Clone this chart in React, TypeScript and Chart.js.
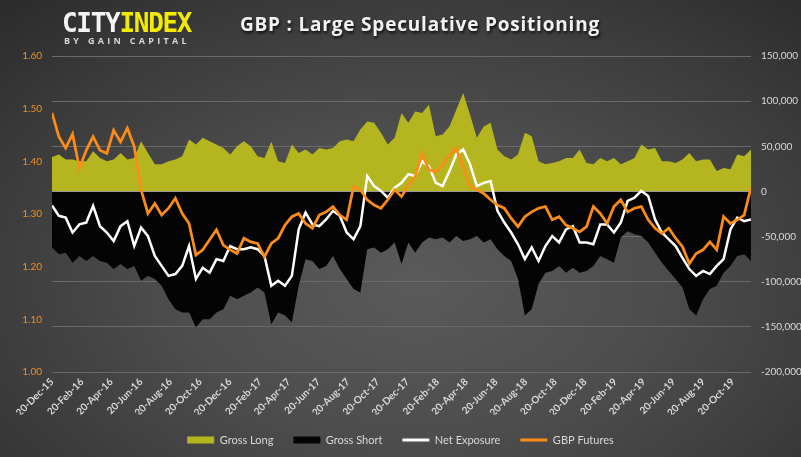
import React, { useEffect, useRef } from 'react';
import { Chart, registerables } from 'chart.js';

Chart.register(...registerables);

// Fortnightly observations from 20-Dec-15 onwards
const STEP_DAYS = 14.09;
const START_UTC = Date.UTC(2015, 11, 20);

const X_TICK_LABELS = [
  '20-Dec-15', '20-Feb-16', '20-Apr-16', '20-Jun-16', '20-Aug-16', '20-Oct-16',
  '20-Dec-16', '20-Feb-17', '20-Apr-17', '20-Jun-17', '20-Aug-17', '20-Oct-17',
  '20-Dec-17', '20-Feb-18', '20-Apr-18', '20-Jun-18', '20-Aug-18', '20-Oct-18',
  '20-Dec-18', '20-Feb-19', '20-Apr-19', '20-Jun-19', '20-Aug-19', '20-Oct-19',
];

const GROSS_LONG = [
  38000, 41000, 35500, 35500, 33500, 33500, 44500, 37000, 33500, 35500, 42500, 35500,
  37000, 55500, 42500, 30000, 30000, 33500, 35500, 39000, 57500, 52000, 59500, 55500,
  52000, 48000, 41000, 50000, 55500, 50000, 39000, 37000, 55000, 33500, 31500,
  52000, 42500, 46500, 41000, 48000, 46500, 48000, 55500, 57500, 55500, 68500, 77500,
  76000, 65000, 52000, 59500, 87000, 76000, 88500, 87000, 96000, 61000, 63000, 72000,
  90500, 109000, 85000, 59500, 72000, 76000, 46500, 39000, 35500, 41000,
  65000, 61000, 33500, 30000, 31500, 33500, 37000, 37000, 46500, 31500, 30000, 37000,
  33500, 37000, 30000, 33500, 37000, 52000, 46500, 48000, 33500, 33500, 31500, 35500,
  42500, 33500, 35500, 35500, 22500, 26000, 24500, 41000, 39000, 46500,
];

const GROSS_SHORT = [
  -62000, -69500, -68000, -79000, -71500, -77000, -71500, -77000, -79000, -86000, -80500, -86000,
  -82500, -99000, -93500, -97000, -104500, -119500, -130500, -134000, -134000, -150500, -141500, -141500,
  -134000, -130500, -115500, -119500, -115500, -112000, -106500, -112000, -147000, -134000, -137500,
  -145000, -104500, -75000, -77000, -86000, -82500, -71500, -86000, -97000, -108000, -112000, -64000,
  -62000, -68000, -64000, -56500, -80500, -56500, -68000, -56500, -51000, -53000, -51000, -56500,
  -49500, -55000, -53000, -49500, -56500, -53000, -64000, -71500, -77000, -97000,
  -137500, -130500, -102500, -90000, -88000, -82500, -90000, -84500, -90000, -88000, -82500, -71500,
  -75000, -79000, -51000, -44000, -47500, -49500, -56500, -68000, -79000, -88000, -97000, -106500,
  -130500, -137500, -119500, -108000, -104500, -90000, -82500, -71500, -69500, -77000,
];

const NET_EXPOSURE = [
  -15500, -27000, -29000, -45500, -36500, -34500, -16000, -38500, -45500, -55000, -38500, -33000,
  -60500, -40000, -49500, -71500, -82500, -93500, -91500, -82500, -60500, -97000, -84500, -90000,
  -75000, -77000, -60500, -64000, -64000, -62000, -64000, -71500, -104500, -99000, -104500,
  -93500, -42000, -23500, -36500, -38500, -31000, -21500, -27000, -45500, -53000, -38500, 17000,
  6000, 500, -7000, 4000, 9500, 19000, 17000, 33500, 28000, 9500, 6000, 22500,
  41000, 46500, 30000, 6000, 9500, 11500, -21500, -34500, -45500, -58500,
  -75000, -62000, -77000, -60500, -49500, -56500, -42000, -38500, -56500, -56500, -58500, -36500,
  -36500, -45500, -34500, -10500, -7000, 500, -5000, -31000, -45500, -53000, -60500, -73500,
  -86000, -93500, -88000, -91500, -82500, -75000, -42000, -29000, -33000, -31000,
];

const GBP_FUTURES = [
  1.492, 1.447, 1.425, 1.452, 1.387, 1.421, 1.447, 1.421, 1.415, 1.459, 1.437, 1.463,
  1.428, 1.346, 1.301, 1.320, 1.298, 1.311, 1.330, 1.301, 1.282, 1.222, 1.232, 1.251,
  1.270, 1.241, 1.232, 1.225, 1.254, 1.247, 1.244, 1.219, 1.244, 1.254, 1.279,
  1.295, 1.301, 1.282, 1.273, 1.298, 1.304, 1.314, 1.298, 1.289, 1.352, 1.346, 1.327,
  1.317, 1.311, 1.327, 1.346, 1.333, 1.355, 1.371, 1.415, 1.384, 1.380, 1.393, 1.412,
  1.425, 1.390, 1.352, 1.346, 1.339, 1.327, 1.317, 1.311, 1.292, 1.276,
  1.295, 1.304, 1.311, 1.314, 1.289, 1.295, 1.279, 1.273, 1.266, 1.276, 1.314, 1.301,
  1.282, 1.314, 1.327, 1.304, 1.311, 1.314, 1.289, 1.273, 1.263, 1.273, 1.254, 1.238,
  1.206, 1.225, 1.232, 1.247, 1.232, 1.295, 1.282, 1.289, 1.298, 1.350,
];

const OLIVE = '#b4b51f';
const SHORT_BLACK = '#040404';
const ORANGE = '#fb8c17';
const TICK_ORANGE = '#f0901f';
const TEXT_GREY = '#d9d9d9';
const FONT = 'Lato, "Open Sans", sans-serif';

const MONTHS = ['Jan', 'Feb', 'Mar', 'Apr', 'May', 'Jun', 'Jul', 'Aug', 'Sep', 'Oct', 'Nov', 'Dec'];
const labelDay = (label: string) => {
  const [d, m, y] = label.split('-');
  return (Date.UTC(2000 + Number(y), MONTHS.indexOf(m), Number(d)) - START_UTC) / 86400000;
};

const toPoints = (values: number[]) => values.map((v, i) => ({ x: i * STEP_DAYS, y: v }));

const zeroLinePlugin = {
  id: 'zeroLine',
  afterDatasetDraw(chart: any, args: any) {
    if (args.index !== 1) return;
    const { ctx, chartArea } = chart;
    const y = Math.round(chart.scales.yR.getPixelForValue(0)) + 0.5;
    ctx.save();
    ctx.strokeStyle = '#9a9a9a';
    ctx.lineWidth = 1;
    ctx.beginPath();
    ctx.moveTo(chartArea.left, y);
    ctx.lineTo(chartArea.right, y);
    ctx.stroke();
    ctx.restore();
  },
};

export default function App() {
  const canvasRef = useRef<HTMLCanvasElement | null>(null);

  useEffect(() => {
    if (!canvasRef.current) return;
    const lastX = (GROSS_LONG.length - 1) * STEP_DAYS;
    const chart = new Chart(canvasRef.current, {
      type: 'line',
      data: {
        datasets: [
          {
            label: 'Gross Long',
            data: toPoints(GROSS_LONG),
            yAxisID: 'yR',
            backgroundColor: OLIVE,
            borderWidth: 0,
            borderColor: OLIVE,
            fill: 'origin',
            pointRadius: 0,
            tension: 0,
            order: 4,
          },
          {
            label: 'Gross Short',
            data: toPoints(GROSS_SHORT),
            yAxisID: 'yR',
            backgroundColor: SHORT_BLACK,
            borderWidth: 0,
            borderColor: SHORT_BLACK,
            fill: 'origin',
            pointRadius: 0,
            tension: 0,
            order: 3,
          },
          {
            label: 'Net Exposure',
            data: toPoints(NET_EXPOSURE),
            yAxisID: 'yR',
            borderColor: '#ffffff',
            borderWidth: 2.5,
            fill: false,
            pointRadius: 0,
            tension: 0,
            order: 2,
          },
          {
            label: 'GBP Futures',
            data: toPoints(GBP_FUTURES),
            yAxisID: 'yL',
            borderColor: ORANGE,
            borderWidth: 2.75,
            fill: false,
            pointRadius: 0,
            tension: 0,
            order: 1,
          },
        ],
      },
      options: {
        responsive: false,
        animation: false,
        events: [],
        layout: { padding: { top: 56, bottom: 1.5, left: 0, right: 0 } },
        plugins: {
          tooltip: { enabled: false },
          title: { display: false },
          legend: {
            position: 'bottom',
            labels: {
              usePointStyle: true,
              pointStyleWidth: 27,
              boxHeight: 7,
              padding: 20,
              color: TEXT_GREY,
              font: { family: FONT, size: 11 },
              generateLabels: () => [
                { text: 'Gross Long', fillStyle: OLIVE, strokeStyle: OLIVE, lineWidth: 0, pointStyle: 'rect', fontColor: TEXT_GREY, hidden: false, datasetIndex: 0 },
                { text: 'Gross Short', fillStyle: SHORT_BLACK, strokeStyle: SHORT_BLACK, lineWidth: 0, pointStyle: 'rect', fontColor: TEXT_GREY, hidden: false, datasetIndex: 1 },
                { text: 'Net Exposure', fillStyle: '#ffffff', strokeStyle: '#ffffff', lineWidth: 3, pointStyle: 'line', fontColor: TEXT_GREY, hidden: false, datasetIndex: 2 },
                { text: 'GBP Futures', fillStyle: ORANGE, strokeStyle: ORANGE, lineWidth: 3, pointStyle: 'line', fontColor: TEXT_GREY, hidden: false, datasetIndex: 3 },
              ],
            },
          },
        },
        scales: {
          x: {
            type: 'linear',
            min: 0,
            max: lastX,
            grid: { display: false, drawTicks: false },
            border: { display: false },
            afterBuildTicks: (scale: any) => {
              scale.ticks = X_TICK_LABELS.map((l) => ({ value: labelDay(l) }));
            },
            afterFit: (scale: any) => {
              scale.height = 42.5;
            },
            ticks: {
              autoSkip: false,
              minRotation: 45,
              maxRotation: 45,
              padding: 4,
              color: TEXT_GREY,
              font: { family: FONT, size: 10, weight: 'bold' },
              callback: (_v: any, i: number) => X_TICK_LABELS[i],
            },
          },
          yL: {
            type: 'linear',
            position: 'left',
            min: 1.0,
            max: 1.6,
            grid: { display: false, drawTicks: false },
            border: { display: false },
            afterFit: (scale: any) => {
              scale.width = 52;
            },
            ticks: {
              stepSize: 0.1,
              padding: 10,
              color: TICK_ORANGE,
              font: { family: FONT, size: 10 },
              callback: (v: any) => Number(v).toFixed(2),
            },
          },
          yR: {
            type: 'linear',
            position: 'right',
            min: -200000,
            max: 150000,
            grid: { color: '#6a6a6a', lineWidth: 1, drawTicks: false },
            border: { display: false },
            afterFit: (scale: any) => {
              scale.width = 50;
            },
            ticks: {
              stepSize: 50000,
              padding: 10,
              color: TEXT_GREY,
              font: { family: FONT, size: 10 },
              callback: (v: any) => Number(v).toLocaleString('en-US'),
            },
          },
        },
      },
      plugins: [zeroLinePlugin],
    } as any);
    return () => chart.destroy();
  }, []);

  return (
    <div
      style={{
        position: 'absolute',
        left: 0,
        top: 0,
        width: 801,
        height: 457,
        overflow: 'hidden',
        background:
          'radial-gradient(ellipse 75% 85% at 52% 62%, #5a5a5a 0%, #4d4d4d 40%, #3a3a3a 75%, #2b2b2b 100%)',
      }}
    >
      <canvas ref={canvasRef} width={801} height={457} style={{ position: 'absolute', left: 0, top: 0, display: 'block' }} />
      <div
        style={{
          position: 'absolute',
          left: 62,
          top: 8,
          fontFamily: '"DejaVu Sans Mono", monospace',
          fontWeight: 'bold',
          fontSize: 26,
          lineHeight: '30px',
          letterSpacing: -1.3,
          whiteSpace: 'nowrap',
        }}
      >
        <span style={{ color: '#f4f4f4' }}>CITY</span>
        <span style={{ color: '#f2ea00' }}>INDEX</span>
      </div>
      <div
        style={{
          position: 'absolute',
          left: 64,
          top: 35,
          fontFamily: '"Open Sans", sans-serif',
          fontWeight: 'bold',
          fontSize: 9,
          lineHeight: '11px',
          letterSpacing: 3.3,
          color: '#d6d6d6',
          whiteSpace: 'nowrap',
        }}
      >
        BY GAIN CAPITAL
      </div>
      <div
        style={{
          position: 'absolute',
          left: 240,
          top: 15,
          fontFamily: '"Open Sans", sans-serif',
          fontWeight: 'bold',
          fontSize: 19,
          lineHeight: '19px',
          letterSpacing: 0.8,
          color: '#f2f2f2',
          textShadow: '1px 2px 3px rgba(0,0,0,0.8)',
          whiteSpace: 'nowrap',
        }}
      >
        GBP : Large Speculative Positioning
      </div>
    </div>
  );
}
